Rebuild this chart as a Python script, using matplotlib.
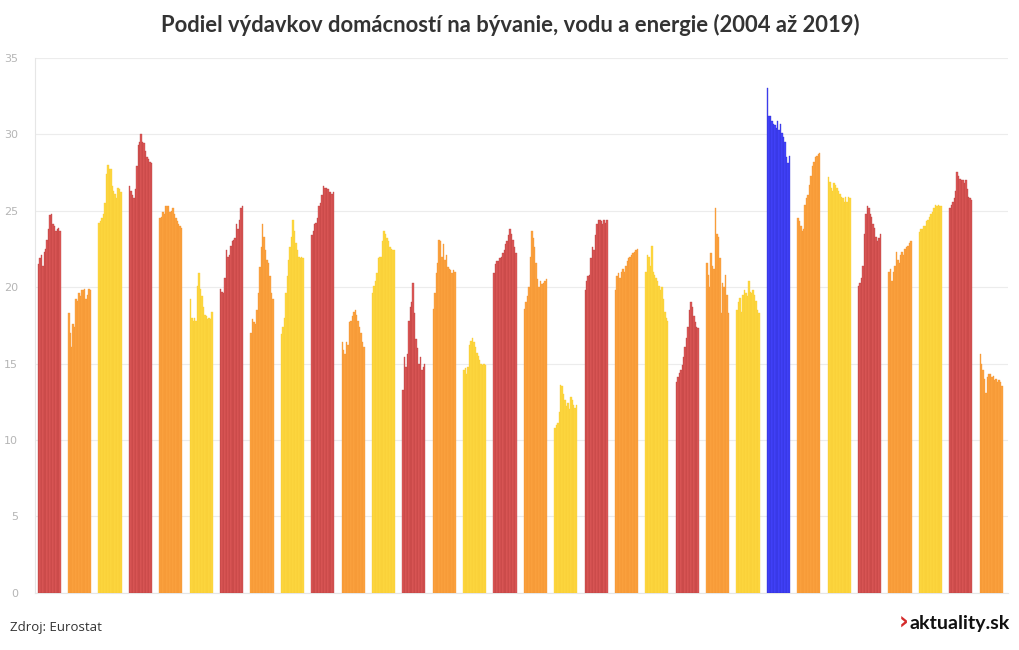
import matplotlib
matplotlib.use('Agg')
from matplotlib import pyplot as plt
import numpy as np

# roky 2004 - 2019, jedna skupina stlpcov na krajinu
roky = list(range(2004, 2020))

k01 = [21.5, 21.9, 22.1, 21.4, 22.3, 22.5, 23.1, 23.8, 24.7, 24.8, 24.1, 24.0, 23.7, 23.8, 23.9, 23.7]
k02 = [18.3, 17.0, 16.1, 17.6, 17.4, 19.2, 19.1, 19.6, 19.4, 19.8, 19.8, 19.9, 19.2, 19.5, 19.9, 19.8]
k03 = [24.2, 24.3, 24.5, 24.8, 25.5, 27.4, 28.0, 27.7, 27.7, 26.6, 26.3, 26.1, 25.8, 26.5, 26.4, 26.2]
k04 = [26.6, 26.3, 26.0, 25.8, 26.4, 27.9, 29.3, 29.5, 30.0, 29.5, 29.4, 28.9, 28.5, 28.4, 28.2, 28.1]
k05 = [24.5, 24.6, 24.9, 24.8, 25.3, 25.3, 25.3, 24.9, 25.0, 25.2, 24.8, 24.5, 24.3, 24.1, 24.0, 23.9]
k06 = [19.2, 18.0, 17.8, 18.0, 17.8, 20.1, 20.9, 19.9, 19.4, 18.7, 18.2, 18.1, 17.9, 18.0, 17.9, 18.4]
k07 = [19.9, 19.7, 19.6, 20.6, 22.4, 22.0, 22.1, 22.7, 23.0, 23.1, 23.2, 24.1, 23.8, 24.4, 25.2, 25.3]
k08 = [17.0, 17.9, 17.7, 17.6, 18.5, 19.6, 21.3, 22.6, 24.1, 23.3, 22.4, 21.8, 21.6, 20.7, 19.6, 19.2]
k09 = [16.9, 17.4, 18.0, 19.6, 20.7, 21.8, 22.6, 23.3, 24.4, 23.7, 22.9, 22.4, 22.0, 21.9, 22.0, 21.9]
k10 = [23.4, 23.7, 24.1, 24.2, 24.5, 25.3, 25.5, 26.0, 26.6, 26.5, 26.5, 26.4, 26.2, 26.2, 26.1, 26.2]
k11 = [16.4, 15.9, 15.6, 16.4, 16.2, 17.7, 17.8, 18.1, 18.4, 18.5, 18.2, 17.8, 17.4, 17.0, 16.4, 16.1]
k12 = [19.6, 20.1, 20.4, 20.9, 21.9, 22.0, 22.0, 23.0, 23.7, 23.5, 23.2, 23.0, 22.6, 22.5, 22.4, 22.4]
k13 = [13.3, 15.4, 14.8, 15.6, 17.8, 18.7, 19.0, 20.3, 18.3, 16.6, 16.0, 15.0, 15.4, 14.6, 14.8, 15.0]
k14 = [18.6, 19.6, 20.9, 21.6, 23.1, 23.0, 22.0, 22.8, 21.8, 22.1, 21.3, 21.2, 21.1, 20.9, 21.1, 21.0]
k15 = [14.6, 14.7, 14.3, 14.8, 16.2, 16.5, 16.7, 16.4, 16.1, 15.7, 15.5, 15.2, 15.0, 14.9, 15.0, 14.9]
k16 = [20.9, 21.5, 21.7, 21.7, 21.9, 22.0, 22.2, 22.4, 22.8, 23.0, 23.4, 23.8, 23.5, 23.1, 22.6, 22.2]
k17 = [18.6, 19.0, 19.4, 20.0, 22.0, 23.7, 23.2, 22.6, 21.6, 20.5, 20.0, 20.4, 20.2, 20.3, 20.4, 20.5]
k18 = [10.8, 11.0, 11.1, 11.8, 13.6, 13.5, 13.0, 12.6, 12.2, 12.4, 12.0, 12.8, 12.6, 12.3, 12.1, 12.3]
k19 = [19.8, 20.4, 20.7, 20.8, 21.9, 22.6, 22.4, 23.4, 24.1, 24.4, 24.4, 24.3, 24.1, 24.4, 24.2, 24.4]
k20 = [19.8, 20.7, 20.9, 20.6, 21.0, 21.2, 21.0, 21.4, 21.7, 21.9, 22.0, 22.1, 22.2, 22.3, 22.4, 22.5]
k21 = [21.0, 22.1, 22.0, 21.4, 22.7, 21.0, 20.8, 20.6, 20.4, 20.1, 19.8, 20.0, 19.2, 18.4, 18.0, 17.8]
k22 = [13.8, 14.1, 14.4, 14.6, 14.9, 15.4, 16.1, 16.7, 17.4, 18.5, 19.0, 18.7, 18.1, 17.7, 17.4, 17.3]
k23 = [21.6, 20.8, 20.0, 22.2, 21.4, 21.2, 25.2, 23.5, 23.3, 21.9, 18.3, 20.3, 20.0, 20.8, 19.5, 18.3]
k24 = [18.5, 19.0, 19.3, 18.4, 19.5, 19.8, 19.6, 19.4, 20.4, 19.7, 19.6, 19.8, 19.5, 19.1, 18.5, 18.3]
k25 = [33.0, 31.2, 31.2, 30.9, 30.7, 30.6, 30.4, 30.9, 30.3, 30.7, 30.1, 29.8, 29.5, 28.5, 28.1, 28.6]
k26 = [24.5, 24.3, 24.0, 23.7, 23.8, 25.4, 25.8, 26.0, 26.7, 27.3, 27.9, 28.2, 28.5, 28.6, 28.7, 28.8]
k27 = [27.2, 26.9, 26.5, 26.3, 26.8, 26.7, 26.5, 26.3, 26.1, 25.9, 25.8, 25.6, 25.9, 25.6, 25.9, 25.8]
k28 = [20.1, 20.3, 20.6, 21.4, 23.5, 24.8, 25.3, 25.2, 24.8, 24.6, 24.1, 23.9, 23.3, 23.0, 23.2, 23.5]
k29 = [21.0, 21.2, 20.4, 21.0, 21.4, 22.3, 21.8, 21.6, 22.1, 22.3, 22.1, 22.5, 22.6, 22.7, 22.9, 23.0]
k30 = [23.6, 23.8, 23.8, 24.0, 24.0, 24.3, 24.4, 24.6, 24.8, 24.9, 25.2, 25.4, 25.3, 25.4, 25.3, 25.3]
k31 = [25.2, 25.4, 25.6, 25.8, 26.3, 27.5, 27.3, 27.1, 27.0, 27.0, 26.8, 27.0, 26.4, 25.9, 25.8, 25.7]
k32 = [15.6, 15.0, 14.6, 14.0, 13.1, 14.1, 14.3, 14.3, 14.1, 14.2, 13.9, 14.0, 13.8, 13.9, 13.8, 13.5]

skupiny = [k01, k02, k03, k04, k05, k06, k07, k08, k09, k10, k11, k12, k13, k14, k15, k16,
           k17, k18, k19, k20, k21, k22, k23, k24, k25, k26, k27, k28, k29, k30, k31, k32]
typ = ['r', 'o', 'y'] * 8 + ['b', 'o', 'y', 'r', 'o', 'y', 'r', 'o']

farby = {'r': ('#de5a58', '#b83c3c'),
         'o': ('#fca441', '#f3922f'),
         'y': ('#fed840', '#f8ca32'),
         'b': ('#4545ff', '#2b2bcc')}

krok = 21  # 16 rokov + medzera

fig = plt.figure(figsize=(10.2, 6.5), dpi=100)
ax = fig.add_axes([0.034, 0.088, 0.954, 0.823])

for i in range(len(skupiny)):
	x = np.arange(len(roky)) + i * krok
	f, e = farby[typ[i]]
	ax.bar(x, skupiny[i], width=1.0, color=f, edgecolor=e, linewidth=0.25, align='edge', zorder=3)

ax.set_xlim(-2.1, 31 * krok + 16 + 3.5)
ax.set_ylim(0, 35)
ax.set_yticks(range(0, 36, 5))
ax.set_xticks([])
ax.grid(axis='y', color='#ececec', linewidth=0.8, zorder=0)
for s in ['top', 'right']:
	ax.spines[s].set_visible(False)
ax.spines['left'].set_color('#e6e6e6')
ax.spines['bottom'].set_color('#e6e6e6')
ax.tick_params(axis='y', length=0, labelsize=8, labelcolor='#b5b5b5', pad=12)

fig.text(0.5, 0.962, 'Podiel výdavkov domácností na bývanie, vodu a energie (2004 až 2019)',
	ha='center', va='center', fontsize=15.8, fontweight='bold', color='#333333', family='Lato')
fig.text(0.01, 0.034, 'Zdroj: Eurostat', ha='left', va='center', fontsize=9.5, color='#333333', family='Open Sans')
fig.text(0.8905, 0.042, '›', ha='right', va='center', fontsize=17, fontweight='bold', color='#d42a2a', family='DejaVu Sans')
fig.text(0.99, 0.04, 'aktuality.sk', ha='right', va='center', fontsize=14, fontweight='bold', color='#111111', family='Lato')

plt.savefig('out.png', dpi=100)
